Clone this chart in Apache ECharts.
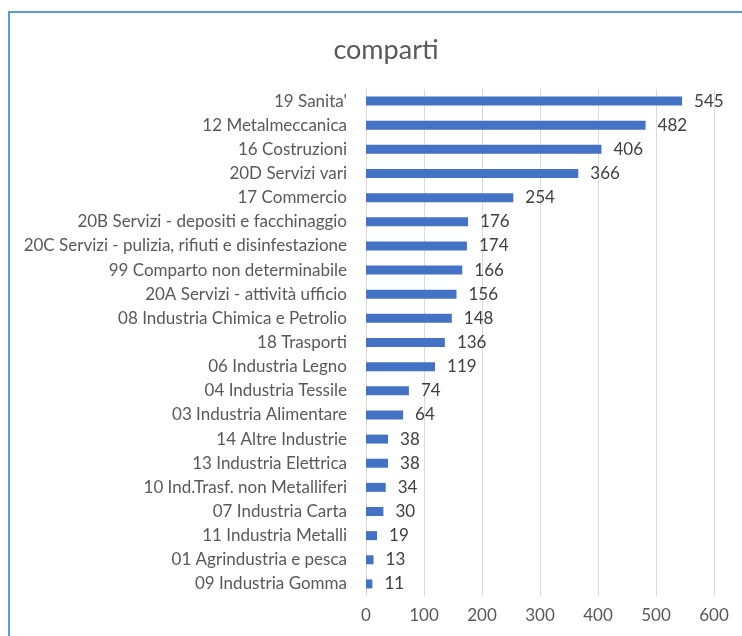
<!DOCTYPE html>
<html><head><meta charset="utf-8">
<script src="https://cdn.jsdelivr.net/npm/echarts@6/dist/echarts.min.js"></script>
<style>html,body{margin:0;padding:0;background:#fff}#c{width:742px;height:636px}</style>
</head><body><div id="c"></div>
<script>
var categories = ["19 Sanita'","12 Metalmeccanica","16 Costruzioni","20D Servizi vari","17 Commercio","20B Servizi - depositi e facchinaggio","20C Servizi - pulizia, rifiuti e disinfestazione","99 Comparto non determinabile","20A Servizi - attività ufficio","08 Industria Chimica e Petrolio","18 Trasporti","06 Industria Legno","04 Industria Tessile","03 Industria Alimentare","14 Altre Industrie","13 Industria Elettrica","10 Ind.Trasf. non Metalliferi","07 Industria Carta","11 Industria Metalli","01 Agrindustria e pesca","09 Industria Gomma"];
var values = [545,482,406,366,254,176,174,166,156,148,136,119,74,64,38,38,34,30,19,13,11];
var xTicks = [0,100,200,300,400,500,600];
var FONT = "Lato,sans-serif";
var chart = echarts.init(document.getElementById('c'));
chart.setOption({
  animation:false,
  title:{text:'comparti',left:381,textAlign:'center',top:32,textStyle:{fontFamily:FONT,fontSize:27,fontWeight:'normal',color:'#595959'}},
  graphic:[{type:'rect',shape:{x:9,y:12,width:800,height:700},style:{fill:'none',stroke:'#5b9bd5',lineWidth:2}}],
  grid:{left:366,right:28,top:89,bottom:40,containLabel:false},
  xAxis:{type:'value',min:0,max:600,interval:100,
    axisLine:{show:false},axisTick:{show:false},
    splitLine:{lineStyle:{color:'#d9d9d9',width:1}},
    axisLabel:{margin:11,fontFamily:FONT,fontSize:17,color:'#595959',
      formatter:function(v){return xTicks.indexOf(v)>=0?String(v):'';}}},
  yAxis:{type:'category',data:categories,inverse:true,
    axisLine:{show:true,lineStyle:{color:'#d9d9d9'}},axisTick:{show:false},
    axisLabel:{margin:19,fontFamily:FONT,fontSize:17,color:'#595959'}},
  series:[{type:'bar',data:values,barWidth:9,
    itemStyle:{color:'#4472c4'},
    label:{show:true,position:'right',distance:12,fontFamily:FONT,fontSize:17,color:'#404040'}}]
});
</script></body></html>
